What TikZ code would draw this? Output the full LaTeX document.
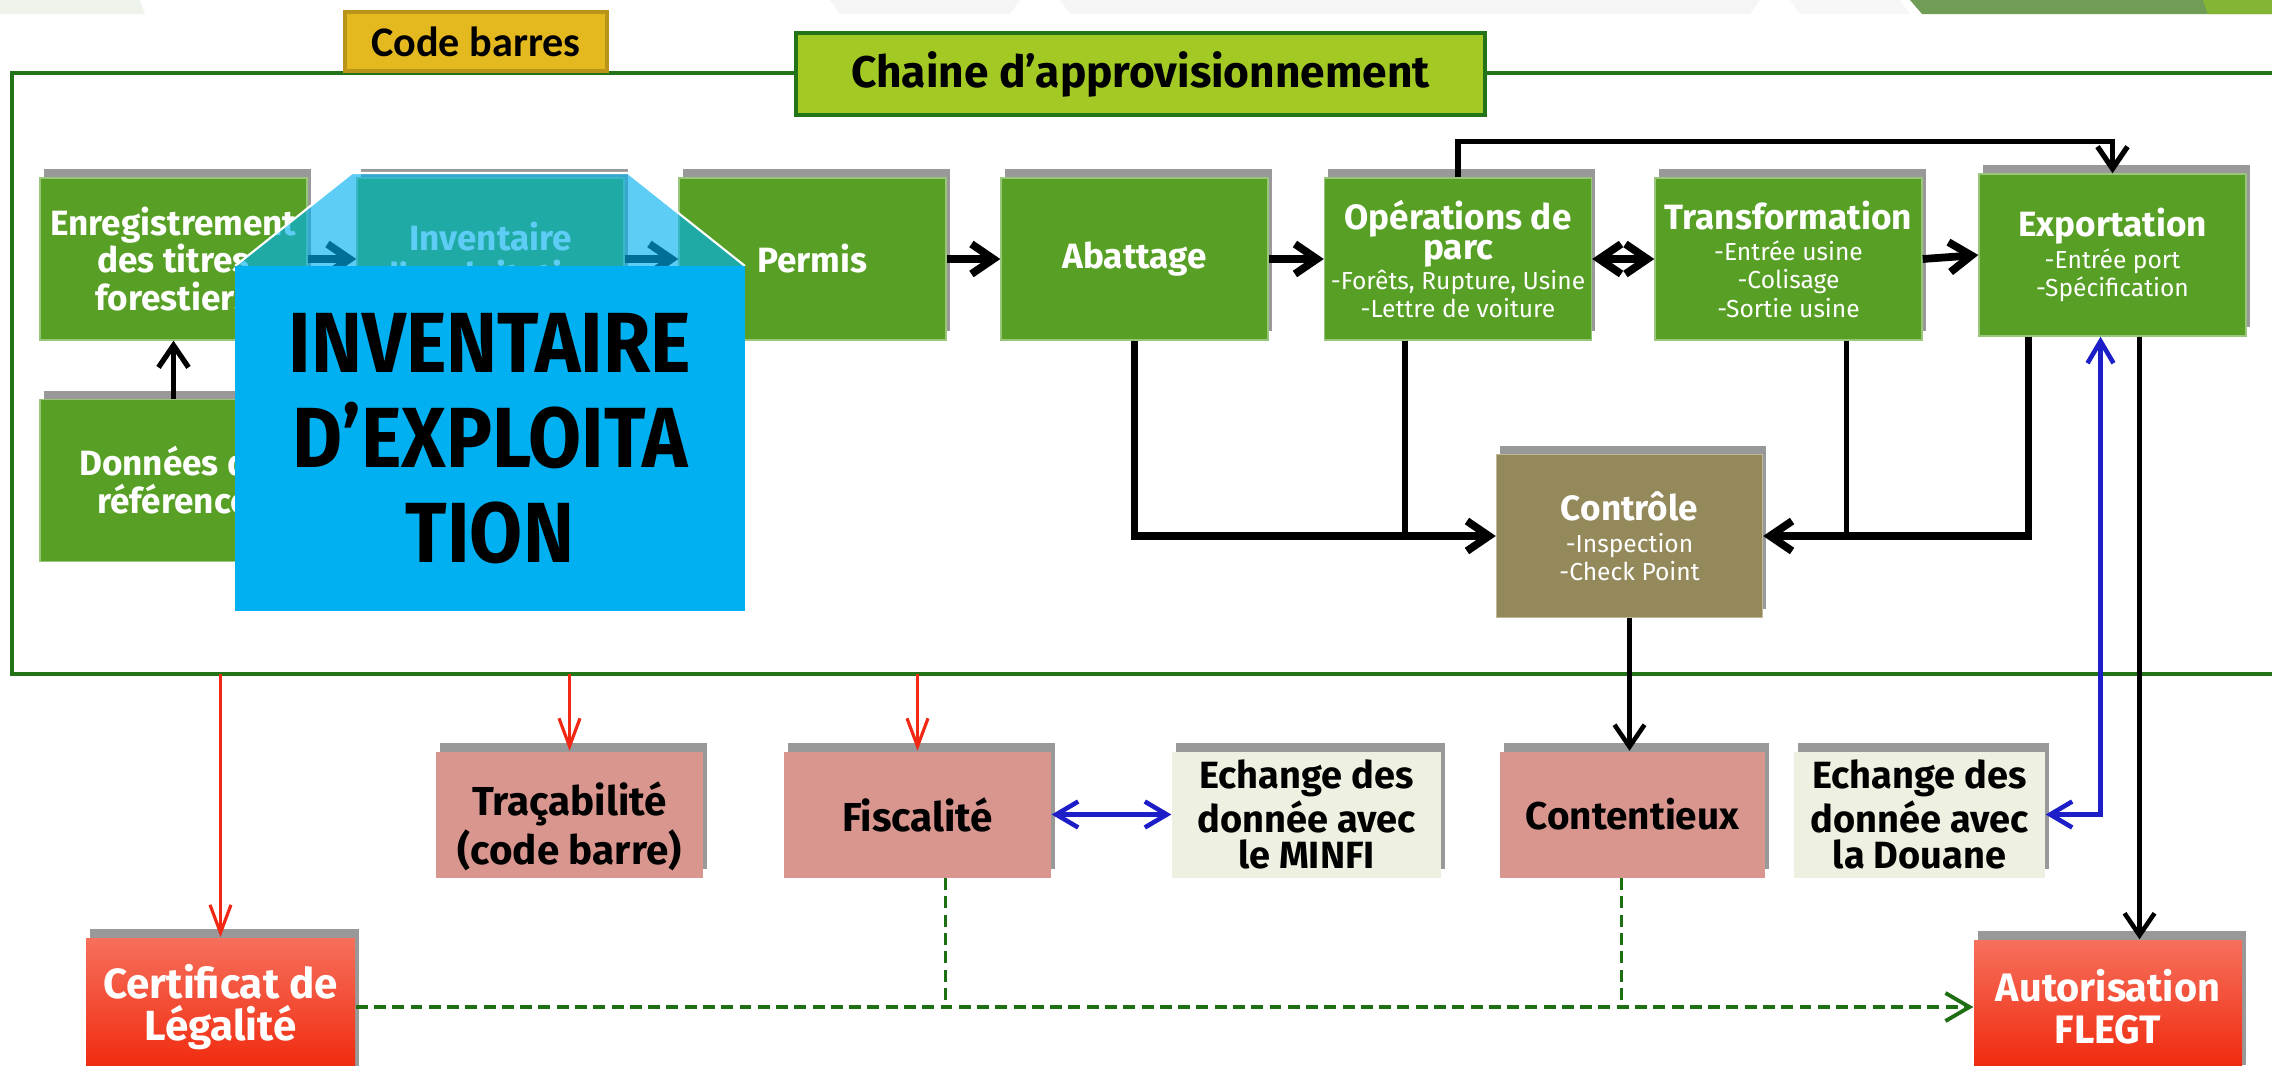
\documentclass[tikz,border=0pt]{standalone}
\usepackage{fontspec}
\setmainfont{Fira Sans}
\newfontfamily\codefont{Carlito}
\newfontfamily\bigfont[FakeStretch=0.9]{Fira Sans}
\usepackage{xcolor}
\usetikzlibrary{arrows.meta,shadows}

\definecolor{boxgreen}{RGB}{87,160,37}
\definecolor{framegreen}{RGB}{35,115,25}
\definecolor{chaingreen}{RGB}{163,201,36}
\definecolor{codegold}{RGB}{228,185,32}
\definecolor{codeedge}{RGB}{185,148,24}
\definecolor{ctrlbrown}{RGB}{148,137,90}
\definecolor{pinkbox}{RGB}{217,150,143}
\definecolor{beigebox}{RGB}{238,240,225}
\definecolor{redtop}{RGB}{246,112,92}
\definecolor{redbot}{RGB}{240,38,10}
\definecolor{invblue}{RGB}{0,176,240}
\definecolor{linkblue}{RGB}{30,30,200}
\definecolor{linkred}{RGB}{240,40,20}
\definecolor{dashgreen}{RGB}{30,110,20}
\definecolor{topgreen}{RGB}{111,157,85}
\definecolor{toplight}{RGB}{132,181,53}

\newcommand\boxhead{\bfseries\fontsize{10}{10.8}\selectfont}
\newcommand\boxsub{\mdseries\fontsize{7}{8}\selectfont}

\begin{document}
\begin{tikzpicture}[
    shade/.style={drop shadow={shadow xshift=1pt, shadow yshift=2.5pt, fill=black!80, opacity=0.5}},
    gbox/.style={rectangle, shade, fill=boxgreen, draw=boxgreen!60!white, line width=0.4pt, text=white, align=center, inner sep=0pt, minimum width=2.67cm, minimum height=1.62cm, font=\bfseries\fontsize{10}{10.8}\selectfont},
    pbox/.style={rectangle, shade, fill=pinkbox, text=black, align=center, inner sep=0pt, minimum width=2.67cm, minimum height=1.26cm, font=\bfseries\fontsize{11.5}{12}\selectfont},
    ebox/.style={pbox, fill=beigebox, minimum width=2.69cm, font=\bfseries\fontsize{10.8}{10.2}\selectfont},
    rbox/.style={rectangle, shade, top color=redtop, bottom color=redbot, text=white, align=center, inner sep=0pt, minimum width=2.69cm, minimum height=1.38cm, font=\bfseries\fontsize{12}{12.2}\selectfont},
    harrow/.style={line width=2.2pt, -{Straight Barb[length=2.2mm,width=3mm]}},
    conn/.style={line width=1.5pt},
    varrow/.style={conn, -{Straight Barb[length=2.2mm,width=3mm]}},
    redarrow/.style={linkred, line width=0.9pt, -{Straight Barb[length=2.8mm,width=2.1mm]}},
    bluearrow/.style={linkblue, line width=1.3pt, {Straight Barb[length=2.2mm,width=2.6mm]}-{Straight Barb[length=2.2mm,width=2.6mm]}},
    dashline/.style={dashgreen, line width=1.1pt, dash pattern=on 3.4pt off 1.8pt},
]
    \useasboundingbox (0,0) rectangle (22.72,-10.65);
    \clip (0,0) rectangle (22.72,-10.65);

    % slide decoration along the top
    \fill[topgreen!12] (0,0) -- (1.40,0) -- (1.45,-0.14) -- (0,-0.14) -- cycle;
    \fill[black!4] (8.3,0) -- (10.2,0) -- (10.1,-0.14) -- (8.4,-0.14) -- cycle;
    \fill[black!4] (10.6,0) -- (17.6,0) -- (17.5,-0.14) -- (10.7,-0.14) -- cycle;
    \fill[black!3] (17.9,0) -- (19.0,0) -- (19.1,-0.14) -- (18.0,-0.14) -- cycle;
    \fill[topgreen] (19.1,0) -- (22.72,0) -- (22.72,-0.14) -- (19.22,-0.14) -- cycle;
    \fill[toplight] (22.03,0) -- (22.72,0) -- (22.72,-0.14) -- (22.08,-0.14) -- cycle;

    % supply chain frame
    \draw[framegreen, line width=0.9pt] (0.12,-0.73) rectangle (23.5,-6.74);
    \coordinate (frameB) at (0,-6.74);

    % first row
    \node[gbox] (enr) at (1.735,-2.59) {Enregistrement\\des titres\\forestiers};
    \node[gbox] (inv) at (4.905,-2.59) {Inventaire\\d'exploitation};
    \node[gbox] (permis) at (8.125,-2.59) {Permis};
    \node[gbox] (abat) at (11.345,-2.59) {Abattage};
    \node[gbox, font=\boxsub] (oper) at (14.58,-2.59) {{\boxhead Opérations de}\\[0.6pt]{\boxhead parc}\\[0.6pt]-Forêts, Rupture, Usine\\-Lettre de voiture};
    \node[gbox, font=\boxsub] (transf) at (17.885,-2.59) {{\boxhead Transformation}\\[1pt]-Entrée usine\\-Colisage\\-Sortie usine};
    \node[gbox, font=\boxsub] (expo) at (21.125,-2.55) {{\boxhead Exportation}\\[1.2pt]-Entrée port\\-Spécification};
    \node[gbox] (donnees) at (1.735,-4.805) {Données de\\référence};
    \node[gbox, fill=ctrlbrown, draw=ctrlbrown!60!white, minimum width=2.66cm, minimum height=1.63cm, font=\boxsub] (controle) at (16.295,-5.36) {{\boxhead Contrôle}\\[1pt]-Inspection\\-Check Point};

    % links inside the chain
    \draw[harrow] (enr.east) -- (inv.west);
    \draw[harrow] (inv.east) -- (permis.west);
    \draw[harrow] (permis.east) -- (abat.west);
    \draw[harrow] (abat.east) -- (oper.west);
    \draw[harrow, {Straight Barb[length=2.2mm,width=3mm]}-{Straight Barb[length=2.2mm,width=3mm]}] (oper.east) -- (transf.west);
    \draw[harrow] (transf.east) -- (expo.west);
    \draw[varrow] (donnees.north) -- (enr.south);
    \draw[varrow] (oper.north) -- ++(0,0.36) -| (expo.north);

    \coordinate (operD) at ([xshift=-0.53cm]oper.south);
    \coordinate (transfD) at ([xshift=0.58cm]transf.south);
    \coordinate (expoL) at ([xshift=-0.84cm]expo.south);
    \coordinate (expoB) at ([xshift=-0.12cm]expo.south);
    \coordinate (expoR) at ([xshift=0.27cm]expo.south);
    \draw[harrow] (abat.south) |- (controle.west);
    \draw[conn] (operD) -- (operD |- controle.west);
    \draw[harrow] (expoL) |- (controle.east);
    \draw[conn] (transfD) -- (transfD |- controle.east);

    % second row
    \node[pbox, text height=30pt] (trac) at (5.695,-8.145) {Traçabilité\\(code barre)};
    \node[pbox] (fisc) at (9.175,-8.145) {Fiscalité};
    \node[ebox] (minfi) at (13.065,-8.145) {Echange des\\donnée avec\\le MINFI};
    \node[pbox, minimum width=2.65cm, font=\bfseries\fontsize{11}{12}\selectfont] (conten) at (16.325,-8.145) {Contentieux};
    \node[ebox, minimum width=2.51cm] (douane) at (19.195,-8.145) {Echange des\\donnée avec\\la Douane};

    % certificates
    \node[rbox] (certif) at (2.205,-10.07) {Certificat de\\Légalité};
    \node[rbox, minimum width=2.68cm, minimum height=1.34cm, font=\bfseries\fontsize{11.3}{12}\selectfont] (autor) at (21.08,-10.07) {Autorisation\\FLEGT};

    \draw[varrow, line width=1.3pt] (controle.south) -- (controle.south |- conten.north);
    \draw[varrow, line width=1.3pt] (expoR) -- (expoR |- autor.north);
    \draw[bluearrow] (expoB) |- (douane.east);
    \draw[bluearrow] (fisc.east) -- (minfi.west);

    \draw[redarrow] (certif.north |- frameB) -- (certif.north);
    \draw[redarrow] (trac.north |- frameB) -- (trac.north);
    \draw[redarrow] (fisc.north |- frameB) -- (fisc.north);

    \coordinate (fiscD) at ([xshift=0.28cm]fisc.south);
    \coordinate (contD) at ([xshift=-0.11cm]conten.south);
    \draw[dashline, -{Straight Barb[length=2.4mm,width=2.8mm]}] (certif.east) -- (autor.west);
    \draw[dashline] (fiscD) -- (fiscD |- certif.east);
    \draw[dashline] (contD) -- (contD |- certif.east);

    % inventaire callout
    \fill[invblue, fill opacity=0.63] (2.35,-2.66) -- (3.52,-1.73) -- (6.28,-1.73) -- (7.45,-2.66) -- cycle;
    \draw[white, line width=0.6pt] (2.35,-2.66) -- (3.52,-1.73) -- (6.28,-1.73) -- (7.45,-2.66);
    \node[fill=invblue, minimum width=5.10cm, minimum height=3.45cm, inner sep=0pt, align=center, font=\bigfont\bfseries\fontsize{24.3}{27}\selectfont] (invbig) at (4.90,-4.385) {INVENTAIRE\\D’EXPLOITA\\TION};

    % titles on the frame
    \node[fill=codegold, draw=codeedge, line width=1pt, minimum width=2.62cm, minimum height=0.59cm, inner sep=0pt, font=\codefont\bfseries\fontsize{12}{13}\selectfont] (code) at (4.76,-0.415) {Code barres};
    \node[fill=chaingreen, draw=framegreen, line width=1.2pt, minimum width=6.89cm, minimum height=0.82cm, inner sep=0pt, font=\bfseries\fontsize{12.6}{13}\selectfont] (chaine) at (11.405,-0.74) {Chaine d'approvisionnement};
\end{tikzpicture}
\end{document}
